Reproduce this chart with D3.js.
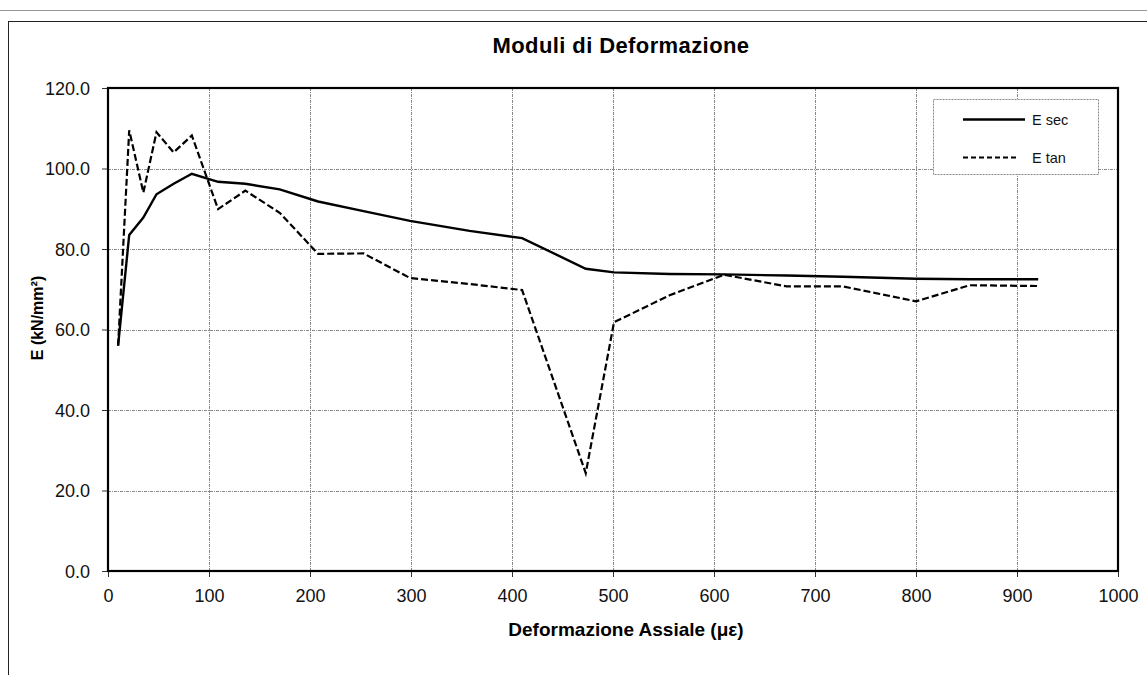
<!DOCTYPE html>
<html><head><meta charset="utf-8">
<script src="https://cdn.jsdelivr.net/npm/d3@7"></script>
<style>body{margin:0;background:#fff}svg{display:block}</style>
</head><body>
<svg id="c" width="1147" height="675"></svg>
<script>
const strain = [10,21,35,48,65,83,109,136,170,208,253,299,358,410,473,501,556,610,672,728,800,853,921];
const eSec   = [56,83.5,87.8,93.6,96.2,98.7,96.7,96.2,94.8,91.8,89.4,87.0,84.5,82.7,75.1,74.2,73.8,73.7,73.4,73.1,72.6,72.5,72.5];
const eTan   = [56,109.5,94,109,104,108.2,89.9,94.5,89,78.8,78.9,72.8,71.3,69.8,24.3,61.8,68.5,73.6,70.7,70.7,67,71,70.8];
const xTicks = [0,100,200,300,400,500,600,700,800,900,1000];
const yTicks = [0,20,40,60,80,100,120];
const seriesNames = ["E sec","E tan"];

const svg = d3.select("#c");
const font = "'Liberation Sans', Arial, sans-serif";
// outer frame
svg.append("line").attr("x1",0).attr("x2",1147).attr("y1",10.5).attr("y2",10.5).attr("stroke","#999").attr("stroke-width",1);
svg.append("rect").attr("x",8.5).attr("y",21.5).attr("width",1150).attr("height",700)
  .attr("fill","none").attr("stroke","#222").attr("stroke-width",1);

const L=108, R=1118, T=88, B=571;
const x = d3.scaleLinear().domain([0,1000]).range([L,R]);
const y = d3.scaleLinear().domain([0,120]).range([B,T]);

// grid
const g = svg.append("g");
g.selectAll(".vg").data(xTicks.slice(1,-1)).enter().append("line")
  .attr("x1",d=>Math.round(x(d))+0.5).attr("x2",d=>Math.round(x(d))+0.5).attr("y1",T).attr("y2",B)
  .attr("stroke","#888").attr("stroke-width",1).attr("stroke-dasharray","3,1,1,1");
g.selectAll(".hg").data(yTicks.slice(1,-1)).enter().append("line")
  .attr("y1",d=>Math.round(y(d))+0.5).attr("y2",d=>Math.round(y(d))+0.5).attr("x1",L).attr("x2",R)
  .attr("stroke","#888").attr("stroke-width",1).attr("stroke-dasharray","3,1,1,1");

// axes
const xAxis = d3.axisBottom(x).tickValues(xTicks).tickSize(6).tickFormat(d3.format("d"));
const yAxis = d3.axisLeft(y).tickValues(yTicks).tickSize(6).tickFormat(d3.format(".1f"));
const gx = svg.append("g").attr("transform",`translate(0,${B})`).call(xAxis);
const gy = svg.append("g").attr("transform",`translate(${L},0)`).call(yAxis);
[gx,gy].forEach(a=>{
  a.select(".domain").remove();
  a.selectAll(".tick line").attr("stroke","#333");
  a.selectAll("text").attr("font-family",font).attr("font-size",18).attr("fill","#111");
});
gx.selectAll("text").attr("y",31).attr("dy",null);
gy.selectAll("text").attr("x",-18).attr("dy","0.36em");

// plot border
svg.append("rect").attr("x",L).attr("y",T).attr("width",R-L).attr("height",B-T)
  .attr("fill","none").attr("stroke","#000").attr("stroke-width",2.2);

// lines
const pts = (arr)=>strain.map((s,i)=>[s,arr[i]]);
const line = d3.line().x(d=>x(d[0])).y(d=>y(d[1]));
svg.append("path").datum(pts(eTan)).attr("d",line).attr("fill","none")
  .attr("stroke","#000").attr("stroke-width",2.2).attr("stroke-dasharray","7,3");
svg.append("path").datum(pts(eSec)).attr("d",line).attr("fill","none")
  .attr("stroke","#000").attr("stroke-width",2.4);

// legend
const lg = svg.append("g");
lg.append("rect").attr("x",933.5).attr("y",99.5).attr("width",165).attr("height",75)
  .attr("fill","#fff").attr("stroke","#888").attr("stroke-width",1).attr("stroke-dasharray","2,1");
const ly = [119.5, 157.5];
const lx2 = [1025, 1018];
seriesNames.forEach((n,i)=>{
  lg.append("line").attr("x1",963).attr("x2",lx2[i]).attr("y1",ly[i]).attr("y2",ly[i])
    .attr("stroke","#000").attr("stroke-width",i===0?2.4:1.8).attr("stroke-dasharray",i===0?null:"5,3");
  lg.append("text").attr("x",1032).attr("y",ly[i]+5).text(n)
    .attr("font-family",font).attr("font-size",14.5).attr("fill","#111");
});

// titles
svg.append("text").attr("x",621).attr("y",53).attr("text-anchor","middle")
  .attr("font-family",font).attr("font-weight","bold").attr("font-size",22).attr("letter-spacing",0.4)
  .text("Moduli di Deformazione");
svg.append("text").attr("x",626).attr("y",636).attr("text-anchor","middle")
  .attr("font-family",font).attr("font-weight","bold").attr("font-size",19).text("Deformazione Assiale (\u03bc\u03b5)");
svg.append("text").attr("transform","translate(43,318) rotate(-90)").attr("text-anchor","middle")
  .attr("font-family",font).attr("font-weight","bold").attr("font-size",16).text("E (kN/mm\u00b2)");
</script>
</body></html>
